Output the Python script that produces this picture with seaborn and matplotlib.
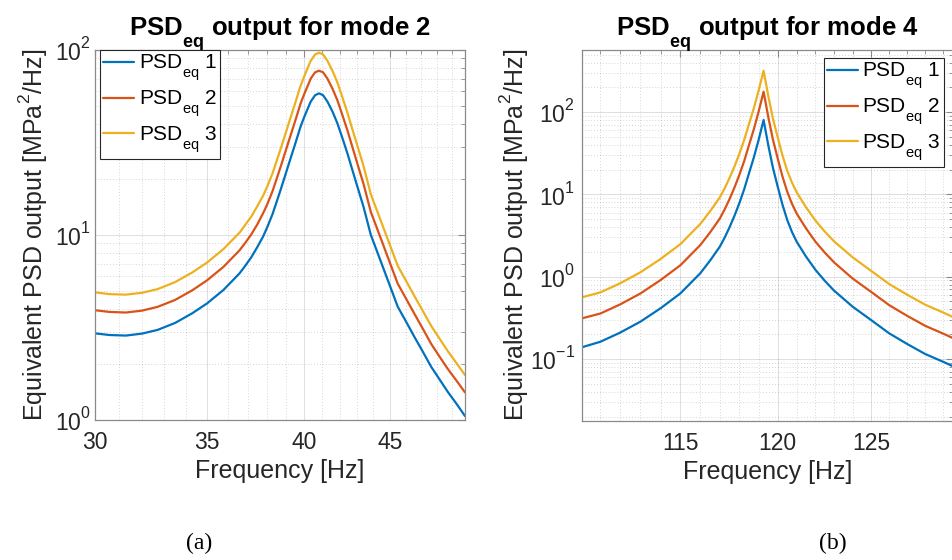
import matplotlib
matplotlib.use("Agg")
import matplotlib.pyplot as plt
import numpy as np
import pandas as pd
import seaborn as sns
from matplotlib.ticker import FixedLocator, NullFormatter, FixedFormatter, LogLocator

# ---------------- data ----------------
freq_a = [30.0, 30.6, 31.3, 32.0, 32.7, 33.5, 34.3, 35.0, 35.8, 36.6, 36.9, 37.2, 37.5,
          37.8, 38.0, 38.3, 38.72, 39.26, 39.5, 39.80, 40.0, 40.36, 40.6, 40.82, 41.05,
          41.30, 41.6, 41.87, 42.15, 42.45, 42.75, 43.04, 43.4, 43.84, 44.0, 44.45,
          45.0, 45.49, 46.0, 46.54, 47.1, 47.63, 48.2, 48.73, 49.3, 49.9]
psd1_a = [2.94, 2.88, 2.86, 2.93, 3.07, 3.35, 3.78, 4.27, 5.05, 6.21, 6.85, 7.6, 8.6,
          9.8, 10.9, 13.0, 17.5, 26.0, 30.9, 38.5, 43.4, 52.6, 56.9, 58.3, 57.0,
          52.6, 46.2, 40.1, 33.6, 27.6, 22.3, 18.2, 14.2, 10.0, 9.17, 7.17,
          5.33, 4.10, 3.42, 2.82, 2.33, 1.94, 1.65, 1.42, 1.23, 1.05]
psd2_a = [3.92, 3.84, 3.81, 3.90, 4.09, 4.46, 5.03, 5.69, 6.73, 8.27, 9.11, 10.1, 11.4,
          13.1, 14.5, 17.3, 23.3, 34.6, 41.1, 51.3, 57.7, 70.0, 75.7, 77.3, 75.8,
          70.0, 61.4, 53.4, 44.7, 36.8, 29.7, 24.2, 18.9, 13.3, 12.2, 9.55,
          7.09, 5.46, 4.55, 3.76, 3.10, 2.58, 2.19, 1.89, 1.64, 1.41]
psd3_a = [4.90, 4.79, 4.76, 4.87, 5.10, 5.57, 6.28, 7.10, 8.40, 10.3, 11.4, 12.6, 14.3,
          16.3, 18.1, 21.6, 29.1, 43.2, 51.3, 64.0, 72.0, 87.4, 94.5, 96.7, 94.6,
          87.4, 76.7, 66.7, 55.8, 45.9, 37.0, 30.3, 23.6, 16.6, 15.2, 11.9,
          8.85, 6.82, 5.68, 4.69, 3.87, 3.23, 2.74, 2.36, 2.04, 1.75]

freq_b = [110.15, 111.04, 112.0, 113.0, 114.0, 115.0, 116.0, 116.5, 117.0, 117.25, 117.5,
          117.75, 118.0, 118.25, 118.5, 118.75, 119.0, 119.26, 119.52, 119.75, 120.0,
          120.25, 120.5, 120.75, 121.0, 121.5, 122.0, 122.5, 123.0, 124.0,
          125.0, 126.0, 127.0, 128.0, 129.0, 129.6]
psd1_b = [0.139, 0.162, 0.209, 0.284, 0.413, 0.628, 1.10, 1.57, 2.32, 3.0, 4.0,
          5.5, 7.8, 11.5, 18.0, 28.0, 45.8, 80.2, 38.0, 21.0, 12.4,
          7.5, 4.89, 3.5, 2.66, 1.75, 1.21, 0.89, 0.676, 0.432,
          0.298, 0.205, 0.152, 0.115, 0.0927, 0.081]
psd2_b = [0.312, 0.357, 0.460, 0.625, 0.909, 1.38, 2.42, 3.45, 5.10, 6.6, 8.8,
          12.1, 17.2, 25.3, 39.6, 61.6, 101.0, 177.0, 83.6, 46.2, 27.3,
          16.5, 10.8, 7.7, 5.85, 3.85, 2.66, 1.96, 1.49, 0.950,
          0.656, 0.451, 0.334, 0.253, 0.204, 0.178]
psd3_b = [0.562, 0.645, 0.830, 1.13, 1.64, 2.49, 4.37, 6.23, 9.21, 11.9, 15.9,
          21.8, 31.0, 45.7, 71.5, 111.0, 182.0, 318.0, 151.0, 83.4, 49.2,
          29.8, 19.4, 13.9, 10.6, 6.95, 4.80, 3.53, 2.68, 1.72,
          1.18, 0.814, 0.603, 0.457, 0.368, 0.321]

series_labels = [r"$\mathrm{PSD}_{\mathrm{eq}}$ 1", r"$\mathrm{PSD}_{\mathrm{eq}}$ 2",
                 r"$\mathrm{PSD}_{\mathrm{eq}}$ 3"]
titles = [r"$\mathbf{PSD}_{\mathbf{eq}}$ output for mode 2",
          r"$\mathbf{PSD}_{\mathbf{eq}}$ output for mode 4"]
xticks_a = [30, 35, 40, 45]
xticks_b = [115, 120, 125]
minor_a = [31, 32, 33, 34, 36, 37, 38, 39, 41, 42, 43, 44, 46, 47, 48, 49]
minor_b = [111, 112, 113, 114, 116, 117, 118, 119, 121, 122, 123, 124, 126, 127, 128, 129]
colors = ["#0072BD", "#D95319", "#EDB120"]

# deeper subscripts (MATLAB TeX look)
try:
    import matplotlib._mathtext as _mt
    _mt.FontConstantsBase.subdrop = 0.9
    _mt.FontConstantsBase.sub1 = 0.9
    _mt.FontConstantsBase.sup1 = 0.85
except Exception:
    pass

# ---------------- style ----------------
sns.set_theme(style="white")
plt.rcParams.update({
    "font.family": ["Liberation Sans", "DejaVu Sans"],
    "mathtext.fontset": "custom",
    "mathtext.rm": "Liberation Sans",
    "mathtext.it": "Liberation Sans:italic",
    "mathtext.bf": "Liberation Sans:bold",
    "mathtext.sf": "Liberation Sans",
    "axes.edgecolor": "#8a8a8a",
    "axes.linewidth": 0.9,
    "text.color": "#262626",
    "axes.labelcolor": "#262626",
    "xtick.color": "#262626",
    "ytick.color": "#262626",
})


def long_df(freq, s1, s2, s3):
    frames = []
    for lab, vals in zip(series_labels, [s1, s2, s3]):
        frames.append(pd.DataFrame({"Frequency": freq, "PSD": vals, "series": lab}))
    return pd.concat(frames, ignore_index=True)


W, H = 953, 560
fig = plt.figure(figsize=(W / 100, H / 100), dpi=100)
ax1 = fig.add_axes([95 / W, 1 - 420 / H, 370 / W, 370 / H])
ax2 = fig.add_axes([582 / W, 1 - 420.7 / H, 370.7 / W, 370.7 / H])

panels = [
    (ax1, long_df(freq_a, psd1_a, psd2_a, psd3_a), (30, 49.9), (1, 100), xticks_a, minor_a, titles[0]),
    (ax2, long_df(freq_b, psd1_b, psd2_b, psd3_b), (110.15, 129.55), (0.0178, 568), xticks_b, minor_b, titles[1]),
]

for i, (ax, df, xl, yl, xt, xm, ttl) in enumerate(panels):
    sns.lineplot(data=df, x="Frequency", y="PSD", hue="series", palette=colors,
                 estimator=None, sort=False, linewidth=1.6, ax=ax)
    ax.set_xscale("log")
    ax.set_yscale("log")
    ax.set_xlim(*xl)
    ax.set_ylim(*yl)
    ax.xaxis.set_major_locator(FixedLocator(xt))
    ax.xaxis.set_major_formatter(FixedFormatter([str(v) for v in xt]))
    ax.xaxis.set_minor_locator(FixedLocator(xm))
    ax.xaxis.set_minor_formatter(NullFormatter())
    ax.yaxis.set_major_locator(LogLocator(base=10))
    ax.yaxis.set_minor_locator(LogLocator(base=10, subs=np.arange(2, 10)))
    ax.yaxis.set_minor_formatter(NullFormatter())

    ax.grid(which="major", color="#000000", alpha=0.13, linewidth=0.7, linestyle="-")
    ax.grid(which="minor", color="#000000", alpha=0.22, linewidth=0.6, linestyle=(0, (1, 2.5)))
    ax.set_axisbelow(True)

    ax.tick_params(which="both", direction="in", top=True, right=True,
                   labelsize=16.5, colors="#8a8a8a", labelcolor="#262626")
    ax.tick_params(which="major", length=5, width=0.8)
    ax.tick_params(which="minor", length=2.8, width=0.6)
    ax.tick_params(axis="x", which="major", pad=8)
    ax.tick_params(axis="y", which="major", pad=3 if i == 0 else 5)

    ax.set_xlabel("Frequency [Hz]", fontsize=18)
    ax.set_ylabel(r"Equivalent PSD output [MPa$^{2}$/Hz]", fontsize=18)
    ax.xaxis.set_label_coords(0.5, -0.105)
    ax.yaxis.set_label_coords(-0.168 if i == 0 else -0.183, 0.5)
    ax.yaxis.label.set_va("center")
    ax.xaxis.label.set_va("top")

    ax.set_title(ttl, fontsize=18.5, fontweight="bold", color="black", pad=9.5)

    handles, labels = ax.get_legend_handles_labels()
    common = dict(borderaxespad=0, fontsize=15, handlelength=1.5, handletextpad=0.2,
                  borderpad=0.15, labelspacing=0.22, fancybox=False, framealpha=1,
                  bbox_transform=fig.transFigure)
    if i == 0:
        leg = ax.legend(handles, labels, loc="upper left",
                        bbox_to_anchor=(100 / W, 1 - 50 / H), **common)
    else:
        leg = ax.legend(handles, labels, loc="upper right",
                        bbox_to_anchor=(944 / W, 1 - 58 / H), **common)
    leg.get_frame().set_edgecolor("#262626")
    leg.get_frame().set_linewidth(0.8)
    for t in leg.get_texts():
        t.set_color("black")
    for h in leg.legend_handles:
        h.set_linewidth(1.6)

fig.text(199 / W, 1 - 543 / H, "(a)", family=["Liberation Serif", "DejaVu Serif"],
         fontsize=17, ha="center", va="center", color="black")
fig.text(833 / W, 1 - 543 / H, "(b)", family=["Liberation Serif", "DejaVu Serif"],
         fontsize=17, ha="center", va="center", color="black")

fig.savefig("out.png", dpi=100, facecolor="white")
